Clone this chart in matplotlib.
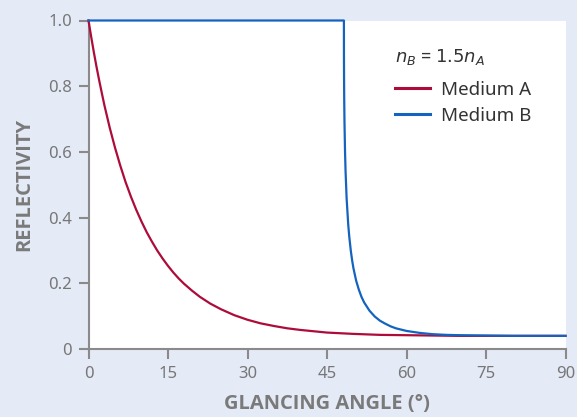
import numpy as np
import matplotlib
matplotlib.use('Agg')
import matplotlib.pyplot as plt

# glancing angle (deg) and reflectivity
angle_a = [0, 0.5, 1, 1.5, 2, 2.5, 3, 4, 5, 6, 7, 8, 9, 10, 11, 12, 13, 14, 15, 16, 17, 18,
           19.5, 21, 23, 25, 27.5, 30, 32.5, 35, 37.5, 40, 42.5, 45, 50, 55, 60, 65, 70, 75, 80, 90]
refl_a = [1.0, 0.951, 0.904, 0.860, 0.819, 0.780, 0.742, 0.674, 0.613, 0.558, 0.508, 0.464,
          0.424, 0.388, 0.355, 0.326, 0.299, 0.275, 0.253, 0.233, 0.215, 0.199,
          0.178, 0.159, 0.138, 0.121, 0.103, 0.089, 0.078, 0.070, 0.063, 0.058, 0.054, 0.050,
          0.046, 0.043, 0.042, 0.041, 0.040, 0.040, 0.040, 0.040]

angle_b = [0, 48.19, 48.2, 48.22, 48.25, 48.3, 48.4, 48.5, 48.7, 49, 49.2, 49.5, 49.75, 50,
           50.5, 51, 51.5, 52, 53, 54, 55, 56, 57, 58, 60, 62.5, 65, 67.5, 70, 75, 80, 90]
refl_b = [1.0, 1.0, 0.891, 0.821, 0.759, 0.690, 0.602, 0.542, 0.459, 0.380, 0.342, 0.298,
          0.269, 0.245, 0.208, 0.181, 0.159, 0.142, 0.117, 0.099, 0.086, 0.077, 0.069, 0.063,
          0.055, 0.049, 0.045, 0.043, 0.042, 0.041, 0.040, 0.040]

xticks = [0, 15, 30, 45, 60, 75, 90]
yticks = [0, 0.2, 0.4, 0.6, 0.8, 1.0]
ytick_labels = ['0', '0.2', '0.4', '0.6', '0.8', '1.0']

bg = '#e4eaf6'
grey = '#8a8a8a'
txt = '#777777'
red = '#ad0c3a'
blue = '#1463bf'

plt.rcParams['font.family'] = ['Noto Sans', 'DejaVu Sans']
plt.rcParams['mathtext.fontset'] = 'dejavusans'

fig = plt.figure(figsize=(5.77, 4.17), dpi=100, facecolor=bg)
ax = fig.add_axes([88.5/577, 1-349/417, 477/577, (349-20.5)/417])
ax.set_facecolor('white')

ax.plot(angle_a, refl_a, color=red, lw=1.6, label='Medium A', clip_on=False, zorder=3)
ax.plot(angle_b, refl_b, color=blue, lw=1.6, label='Medium B', clip_on=False, zorder=4)

ax.set_xlim(0, 90)
ax.set_ylim(0, 1.0)
ax.set_xticks(xticks)
ax.set_yticks(yticks)
ax.set_yticklabels(ytick_labels)

for s in ['top', 'right']:
    ax.spines[s].set_visible(False)
for s in ['left', 'bottom']:
    ax.spines[s].set_color(grey)
    ax.spines[s].set_linewidth(1.5)
ax.tick_params(colors=grey, labelcolor=txt, labelsize=12, length=7, width=1.5, pad=5)

lab_font = dict(family='Open Sans', weight='bold', size=14.5, color='#7a7a7a')
ax.set_xlabel('GLANCING ANGLE (°)', labelpad=9, **lab_font)
ax.set_ylabel('REFLECTIVITY', labelpad=10, **lab_font)

fig.text(395/577, 1-57/417, r'$\mathit{n_B}$ = $\mathit{1.5n_A}$', fontsize=13,
         color='#333333', ha='left', va='center')
leg = ax.legend(loc='upper left', bbox_to_anchor=(395/577, 1-81/417),
                bbox_transform=fig.transFigure, frameon=False,
                fontsize=13.5, handlelength=1.85, handletextpad=0.6,
                labelspacing=0.42, borderaxespad=0, borderpad=0)
for t in leg.get_texts():
    t.set_color('#333333')
for l in leg.get_lines():
    l.set_linewidth(2.2)

fig.savefig('out.png', dpi=100, facecolor=bg)
